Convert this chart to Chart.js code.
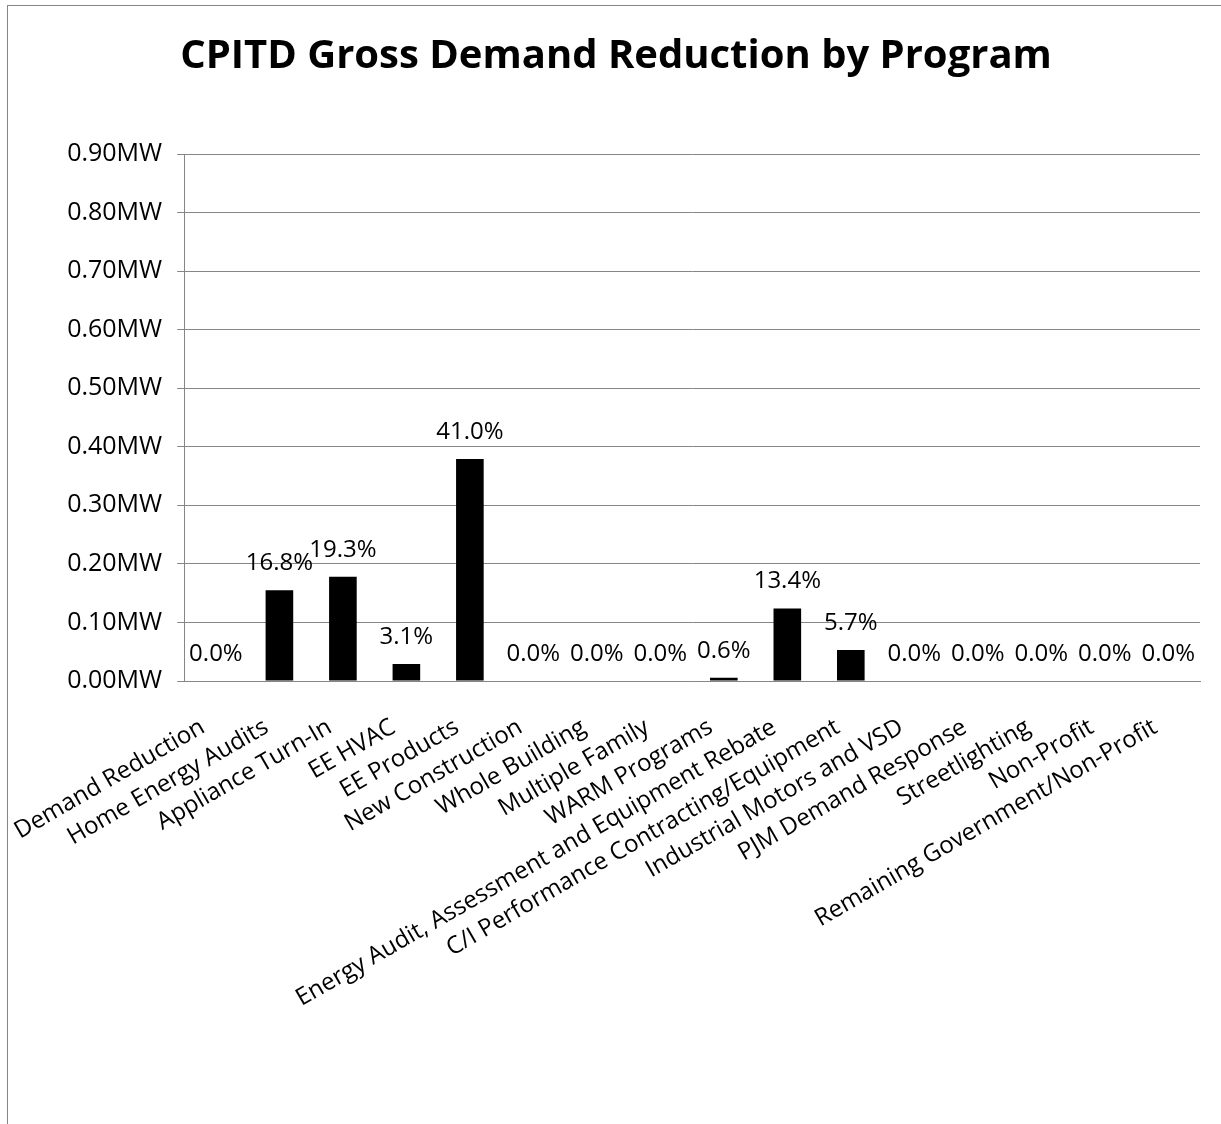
<!DOCTYPE html>
<html>
<head>
<meta charset="utf-8">
<script src="https://cdn.jsdelivr.net/npm/chart.js@4.4.0/dist/chart.umd.min.js"></script>
<style>
  body { margin: 0; background: #fff; }
  #wrap { position: relative; width: 1221px; height: 1124px; overflow: hidden; }
  #frame { position: absolute; left: 7px; top: 5px; width: 1300px; height: 1200px;
           border-left: 1px solid #868686; border-top: 1px solid #868686; }
  canvas { position: absolute; left: 0; top: 0; }
</style>
</head>
<body>
<div id="wrap">
  <div id="frame"></div>
  <canvas id="demandCanvas" width="1221" height="1124"></canvas>
</div>
<script>
// programs on the x axis
let programs = ['Demand Reduction', 'Home Energy Audits', 'Appliance Turn-In', 'EE HVAC', 'EE Products',
  'New Construction', 'Whole Building', 'Multiple Family', 'WARM Programs',
  'Energy Audit, Assessment and Equipment Rebate', 'C/I Performance Contracting/Equipment',
  'Industrial Motors and VSD', 'PJM Demand Response', 'Streetlighting', 'Non-Profit',
  'Remaining Government/Non-Profit'];

// gross demand reduction, MW
let demandMW = [0, 0.155, 0.178, 0.029, 0.379, 0, 0, 0, 0.0055, 0.124, 0.053, 0, 0, 0, 0, 0];

// share of total shown over each bar
let shareLabels = ['0.0%', '16.8%', '19.3%', '3.1%', '41.0%', '0.0%', '0.0%', '0.0%', '0.6%',
  '13.4%', '5.7%', '0.0%', '0.0%', '0.0%', '0.0%', '0.0%'];

let gridGray = '#868686';
let fontName = "'Open Sans', sans-serif";

let shareLabelPlugin = {
  id: 'shareLabels',
  afterDatasetsDraw(chart) {
    let ctx = chart.ctx;
    let meta = chart.getDatasetMeta(0);
    ctx.save();
    ctx.font = '24px ' + fontName;
    ctx.fillStyle = '#000';
    ctx.textAlign = 'center';
    ctx.textBaseline = 'middle';
    meta.data.forEach(function (bar, i) {
      ctx.fillText(shareLabels[i], bar.x, bar.y - 27);
    });
    ctx.restore();
  }
};

let ctx = document.getElementById('demandCanvas').getContext('2d');

let demandChart = new Chart(ctx, {
  type: 'bar',
  data: {
    labels: programs,
    datasets: [{
      label: 'Gross Demand Reduction',
      backgroundColor: '#000000',
      data: demandMW,
      barPercentage: 0.435,
      categoryPercentage: 1
    }]
  },
  options: {
    responsive: false,
    animation: false,
    layout: { padding: { left: 32, right: 21, top: 0, bottom: 0 } },
    plugins: {
      legend: { display: false },
      tooltip: { enabled: false },
      title: {
        display: true,
        text: 'CPITD Gross Demand Reduction by Program',
        color: '#000',
        font: { family: fontName, size: 40, weight: 'bold' },
        padding: { top: 33, bottom: 73 }
      }
    },
    scales: {
      x: {
        grid: { display: false },
        border: { display: true, color: gridGray },
        ticks: {
          color: '#000',
          font: { family: fontName, size: 24 },
          minRotation: 30,
          maxRotation: 30,
          autoSkip: false,
          padding: 24,
          labelOffset: -13
        },
        afterFit(scale) { scale.height = 443; }
      },
      y: {
        min: 0,
        max: 0.9,
        grid: { color: gridGray, tickLength: 7 },
        border: { display: true, color: gridGray },
        ticks: {
          stepSize: 0.1,
          color: '#000',
          font: { family: fontName, size: 25 },
          padding: 15,
          callback: function (v) { return v.toFixed(2) + 'MW'; }
        },
        afterFit(scale) { scale.width = 150; }
      }
    }
  },
  plugins: [shareLabelPlugin]
});
</script>
</body>
</html>
